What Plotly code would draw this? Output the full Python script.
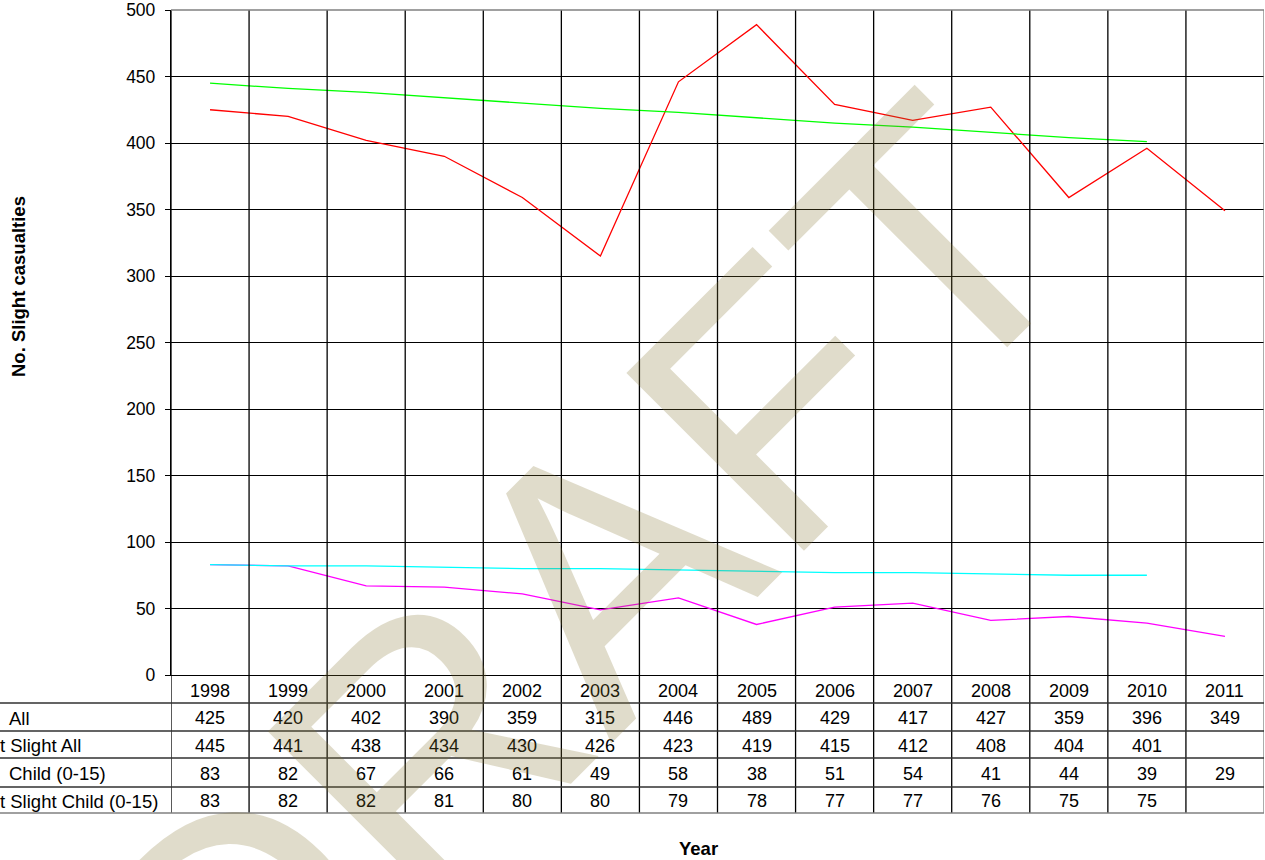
import plotly.graph_objects as go

# ---------------- data ----------------
years = ["1998", "1999", "2000", "2001", "2002", "2003", "2004",
         "2005", "2006", "2007", "2008", "2009", "2010", "2011"]
slight_all = [425, 420, 402, 390, 359, 315, 446, 489, 429, 417, 427, 359, 396, 349]
target_slight_all = [445, 441, 438, 434, 430, 426, 423, 419, 415, 412, 408, 404, 401, None]
slight_child = [83, 82, 67, 66, 61, 49, 58, 38, 51, 54, 41, 44, 39, 29]
target_slight_child = [83, 82, 82, 81, 80, 80, 79, 78, 77, 77, 76, 75, 75, None]
row_labels = ["All", "t Slight All", "Child (0-15)", "t Slight Child (0-15)"]
y_title = "No. Slight casualties"
x_title = "Year"
watermark = "DRAFT"

series = [slight_all, target_slight_all, slight_child, target_slight_child]
colors = ["#ff0000", "#00ff00", "#ff00ff", "#00ffff"]

# ---------------- geometry (pixels) ----------------
W, H = 1265, 860
L, R, T, B = 171, 1264, 10, 675
row_lines = [703, 731, 758, 787, 813]
FONT = "Arial, Liberation Sans, sans-serif"


def px(X):
    return (X - L) / (R - L)


def py(Y):
    return (B - Y) / (B - T)


fig = go.Figure()
for vals, col in zip(series, colors):
    fig.add_trace(go.Scatter(x=years, y=vals, mode="lines",
                             line=dict(color=col, width=1.3),
                             showlegend=False, hoverinfo="x+y"))

shapes = []
# vertical grid / table column lines (category boundaries)
for i in range(len(years) + 1):
    edge = (i == len(years))
    shapes.append(dict(type="line", xref="x", yref="paper",
                       x0=i - 0.5, x1=i - 0.5, y0=1, y1=py(row_lines[-1]),
                       line=dict(color="#808080" if edge else "#000000", width=1.3)))
# horizontal table lines
for k, Y in enumerate(row_lines):
    shapes.append(dict(type="line", xref="paper", yref="paper",
                       x0=px(0), x1=1, y0=py(Y), y1=py(Y),
                       line=dict(color="#808080" if k == len(row_lines) - 1 else "#303030",
                                 width=1.3)))
# top border
shapes.append(dict(type="line", xref="paper", yref="paper", x0=0, x1=1, y0=1, y1=1,
                   line=dict(color="#808080", width=1.5)))

annotations = []
# table values
for r, vals in enumerate(series):
    yc = (row_lines[r] + row_lines[r + 1]) / 2 + 1
    for i, v in enumerate(vals):
        if v is None:
            continue
        annotations.append(dict(x=i, xref="x", y=py(yc), yref="paper",
                                text=str(v), showarrow=False,
                                font=dict(family=FONT, size=18, color="black"),
                                xanchor="center", yanchor="middle"))
    lab = row_labels[r]
    lx = -2 if lab.startswith("t ") else 7
    annotations.append(dict(x=px(lx), xref="paper", y=py(yc), yref="paper",
                            text=lab, showarrow=False,
                            font=dict(family=FONT, size=18.5, color="black"),
                            xanchor="left", yanchor="middle"))
# year header row
for i, yr in enumerate(years):
    annotations.append(dict(x=i, xref="x", y=py(691), yref="paper",
                            text=yr, showarrow=False,
                            font=dict(family=FONT, size=18, color="black"),
                            xanchor="center", yanchor="middle"))
# axis titles
annotations.append(dict(x=px(18), xref="paper", y=py(287), yref="paper",
                        text="<b>" + y_title + "</b>", textangle=-90, showarrow=False,
                        font=dict(family=FONT, size=18.5, color="black"),
                        xanchor="center", yanchor="middle"))
annotations.append(dict(x=px(698), xref="paper", y=py(848), yref="paper",
                        text="<b>" + x_title + "</b>", showarrow=False,
                        font=dict(family=FONT, size=18.5, color="black"),
                        xanchor="center", yanchor="middle"))
# watermark (translucent so the grid and lines show through)
annotations.append(dict(x=px(578), xref="paper", y=py(597), yref="paper",
                        text=watermark, textangle=-45, showarrow=False,
                        font=dict(family="Liberation Sans Narrow, Arial Narrow, Liberation Sans",
                                  size=365, color="rgba(131,115,47,0.25)"),
                        xanchor="center", yanchor="middle"))

fig.update_layout(
    template="none",
    width=W, height=H,
    margin=dict(l=L, r=W - R, t=T, b=H - B, pad=0),
    paper_bgcolor="white", plot_bgcolor="white",
    showlegend=False,
    shapes=shapes,
    annotations=annotations,
    xaxis=dict(type="category", range=[-0.5, len(years) - 0.5],
               showgrid=False, showticklabels=False, ticks="",
               showline=True, linecolor="black", linewidth=1.3,
               zeroline=False, fixedrange=True),
    yaxis=dict(range=[0, 500], dtick=50, tick0=0,
               showgrid=True, gridcolor="#000000", gridwidth=1.2,
               showline=True, linecolor="black", linewidth=1.3,
               ticks="outside", ticklen=5, tickcolor="black", tickwidth=1.2,
               ticklabelstandoff=6,
               tickfont=dict(family=FONT, size=17.5, color="black"),
               zeroline=False, fixedrange=True),
)

fig.write_html(
    "out.html",
    config={"displayModeBar": False},
    post_script="document.documentElement.style.margin='0';"
                "document.body.style.margin='0';"
                "document.documentElement.style.overflow='hidden';"
                "document.body.style.overflow='hidden';",
)
